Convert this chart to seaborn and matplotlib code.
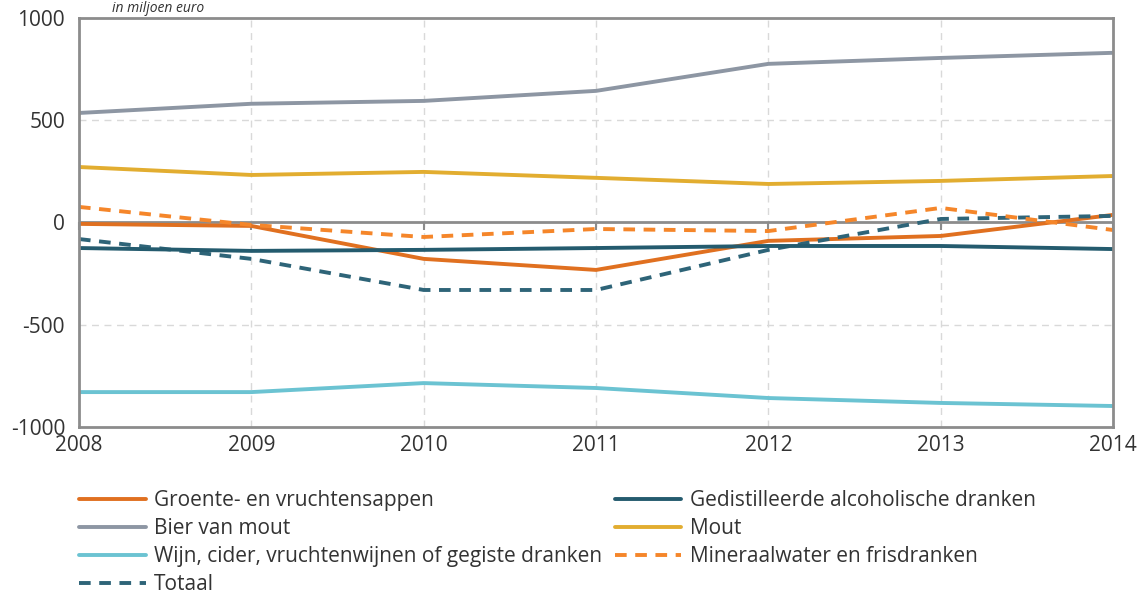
import pandas as pd
import seaborn as sns
import matplotlib.pyplot as plt
from matplotlib.ticker import FuncFormatter

# Jaren en saldi (in miljoen euro)
jaren = [2008, 2009, 2010, 2011, 2012, 2013, 2014]

groente = [-7, -17, -178, -232, -90, -66, 37]
bier = [535, 580, 594, 643, 775, 804, 829]
wijn = [-829, -829, -785, -809, -858, -882, -897]
totaal = [-81, -178, -330, -330, -134, 17, 32]
gedistilleerd = [-125, -139, -134, -125, -115, -115, -130]
mout = [271, 232, 247, 218, 188, 203, 227]
mineraal = [76, -12, -71, -32, -42, 71, -37]

series = [
    ("Groente- en vruchtensappen", groente, "#e07020", "-"),
    ("Bier van mout", bier, "#8d96a3", "-"),
    ("Wijn, cider, vruchtenwijnen of gegiste dranken", wijn, "#6bc3d2", "-"),
    ("Totaal", totaal, "#2e6478", "--"),
    ("Gedistilleerde alcoholische dranken", gedistilleerd, "#245b6e", "-"),
    ("Mout", mout, "#e2ad30", "-"),
    ("Mineraalwater en frisdranken", mineraal, "#f5862a", "--"),
]

sns.set_style("white")
plt.rcParams['font.family'] = ['Open Sans', 'DejaVu Sans']

fig = plt.figure(figsize=(11.44, 5.94), dpi=100)
ax = fig.add_axes([0.069, 0.281, 0.904, 0.689])

for naam, waarden, kleur, stijl in series:
    df = pd.DataFrame({"jaar": jaren, "waarde": waarden})
    sns.lineplot(data=df, x="jaar", y="waarde", ax=ax, color=kleur,
                 linewidth=2.8, label=naam)
    lijn = ax.get_lines()[-1]
    lijn.set_linestyle(stijl)
    if stijl == "--":
        lijn.set_dashes((3, 2.2))

ax.set_xlim(2008, 2014)
ax.set_ylim(-1000, 1000)
ax.set_xticks(jaren)
ax.set_yticks([-1000, -500, 0, 500, 1000])
ax.yaxis.set_major_formatter(FuncFormatter(lambda v, p: f"{v:.0f}"))
ax.set_xlabel("")
ax.set_ylabel("")

# stippellijnen
grid = dict(color="#d9d9d9", linewidth=1, linestyle=(0, (5, 4)), zorder=0)
for j in jaren[1:-1]:
    ax.axvline(j, **grid)
ax.axhline(-500, **grid)
ax.axhline(500, **grid)
ax.axhline(0, color="#8c8c8c", linewidth=2, zorder=1)

for s in ax.spines.values():
    s.set_color("#8c8c8c")
    s.set_linewidth(2)

ax.tick_params(axis="both", labelsize=15, colors="#8c8c8c", labelcolor="#333333",
               length=6, width=1.5)
ax.tick_params(axis="y", pad=4)
ax.tick_params(axis="x", length=0, pad=6)

# kleine streepjes op de nullijn
sec = ax.secondary_xaxis(0.5)
sec.set_xticks(jaren)
sec.tick_params(axis="x", direction="in", length=6, width=1.5, colors="#8c8c8c",
                labelbottom=False, labeltop=False)
sec.spines["top"].set_visible(False)
sec.spines["bottom"].set_visible(False)

fig.text(0.098, 0.999, "in miljoen euro", fontsize=10, fontstyle="italic",
         color="#333333", va="top", ha="left")

ax.legend(loc="upper left", bbox_to_anchor=(0.069, 0.1745),
          bbox_transform=fig.transFigure, ncol=2, frameon=False,
          fontsize=15, handlelength=3.2, handletextpad=0.4,
          labelspacing=0.33, columnspacing=0.6, borderpad=0,
          borderaxespad=0, labelcolor="#333333")

plt.savefig("out.png", dpi=100)
plt.close()
